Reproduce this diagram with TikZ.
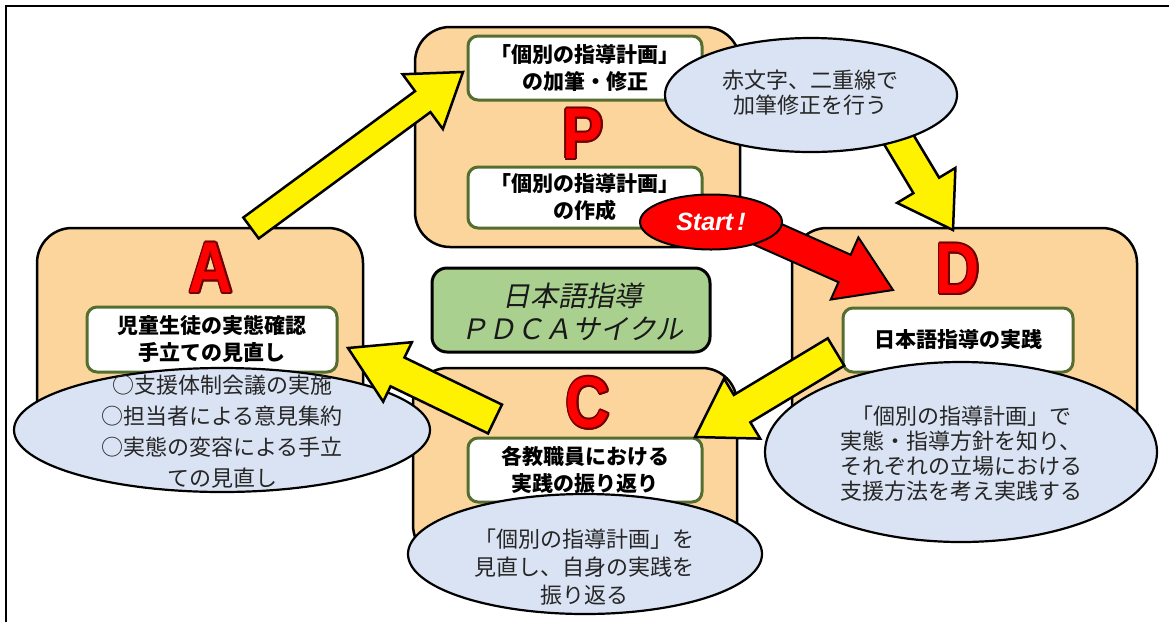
\documentclass[tikz,border=0pt]{standalone}
\usepackage{fontspec}
\usepackage{graphicx}
\usetikzlibrary{calc,shapes.geometric}
\newfontfamily\jp{Noto Sans CJK JP}
\newfontfamily\jpit[FakeSlant=0.2]{Noto Sans CJK JP}
\newfontfamily\lat{Liberation Sans}
\definecolor{boxorange}{RGB}{251,213,156}
\definecolor{ellblue}{RGB}{218,227,243}
\definecolor{titlegreen}{RGB}{169,208,142}
\definecolor{boxgreen}{RGB}{84,110,48}
\definecolor{letteredge}{RGB}{110,0,0}
\tikzset{
  phase/.style={draw=black, line width=2.5pt, fill=boxorange, rounded corners=35pt, inner sep=0pt},
  textbox/.style={draw=boxgreen, line width=3pt, fill=white, rounded corners=10pt, align=center,
    inner sep=0pt, font=\jp\bfseries\fontsize{21}{27}\selectfont},
  titlebox/.style={draw=black, line width=3pt, fill=titlegreen, rounded corners=15pt, inner sep=0pt},
  bubble/.style={ellipse, draw=black, line width=2.2pt, fill=ellblue, inner sep=0pt},
  bubbletext/.style={align=center, inner sep=0pt, text=black!85, font=\jp\fontsize{22}{#1}\selectfont},
  letter/.style={inner sep=0pt, font=\lat\bfseries\fontsize{72}{72}\selectfont},
  yarrow/.style={draw=black, line width=2.5pt, fill=yellow, line join=miter},
  rarrow/.style={draw=black, line width=2pt, fill=red, line join=miter},
}
\newcommand\blockarrow[6]{%
  \coordinate (ba-h) at ($(#3)!#6!(#2)$);
  \draw[#1] ($(#2)!#4!90:(#3)$) -- ($(ba-h)!#4!90:(#3)$) -- ($(ba-h)!#5!90:(#3)$) -- (#3)
    -- ($(ba-h)!#5!-90:(#3)$) -- ($(ba-h)!#4!-90:(#3)$) -- ($(#2)!#4!-90:(#3)$) -- cycle;
}
\newcommand\phaseletter[3]{%
  \foreach \ang in {0,30,...,330}{\node[letter, text=letteredge] at ($(#2)+(\ang:1.8pt)$) {\scalebox{0.85}[1]{#3}};}
  \node[letter, text=red] (#1) at (#2) {\scalebox{0.85}[1]{#3}};
}
\begin{document}
\begin{tikzpicture}[x=1pt,y=-1pt]
\useasboundingbox (0,0) rectangle (1169,622);
\fill[white] (0,0) rectangle (1169,622);
% frame
\draw[line width=2.5pt] (6,622) -- (6,6) -- (1169,6);

% phase boxes
\node[phase, minimum width=325pt, minimum height=220pt] (Pbox) at (577.5,137) {};
\node[phase, minimum width=326pt, minimum height=217pt] (Abox) at (200,336.5) {};
\node[phase, minimum width=324pt, minimum height=192pt] (Cbox) at (575,464) {};
\node[phase, minimum width=345pt, minimum height=242pt] (Dbox) at (964.5,349) {};

% letters
\phaseletter{Pl}{583,134}{P}
\phaseletter{Al}{211,268}{A}
\phaseletter{Dl}{958,269}{D}
\phaseletter{Cl}{588,403}{C}

% white boxes
\node[textbox, minimum width=234pt, minimum height=64pt] (Ptop) at (585,68) {「個別の指導計画」\\の加筆・修正};
\node[textbox, minimum width=234pt, minimum height=61pt] (Pbot) at (585,197.5) {「個別の指導計画」\\の作成};
\node[textbox, minimum width=250pt, minimum height=65pt] (Awb) at (212,339.5) {児童生徒の実態確認\\手立ての見直し};
\node[textbox, minimum width=234pt, minimum height=64pt] (Cwb) at (585,470) {各教職員における\\実践の振り返り};
\node[textbox, minimum width=230pt, minimum height=64pt] (Dwb) at (958,340) {日本語指導の実践};

% title
\node[titlebox, minimum width=278pt, minimum height=84pt] (title) at (571,310) {};
\node[align=center, inner sep=0pt, text=black!90, font=\jpit\fontsize{28}{33}\selectfont] (titletext) at (572,311.5) {日本語指導\\ＰＤＣＡサイクル};

% arrow from P bubble to D (behind bubble)
\coordinate (a2t) at (890,125);
\coordinate (a2h) at (953,230);
\blockarrow{yarrow}{a2t}{a2h}{15pt}{34pt}{52pt}

% bubbles
\node[bubble, minimum width=292pt, minimum height=114pt] (Pell) at (811,95) {};
\node[bubbletext=25] (Pelltext) at (810,92.5) {赤文字、二重線で\\加筆修正を行う};
\node[bubble, minimum width=416pt, minimum height=124pt] (Aell) at (222,430) {};
\node[bubbletext=31] (Aelltext) at (222,432) {○支援体制会議の実施\\○担当者による意見集約\\○実態の変容による手立\\ての見直し};
\node[bubble, minimum width=354pt, minimum height=120pt] (Cell) at (585,554) {};
\node[bubbletext=28] (Celltext) at (584,567) {「個別の指導計画」を\\見直し、自身の実践を\\振り返る};
\node[bubble, minimum width=392pt, minimum height=180pt] (Dell) at (961,452) {};
\node[bubbletext=25] (Delltext) at (961,454) {「個別の指導計画」で\\実態・指導方針を知り、\\それぞれの立場における\\支援方法を考え実践する};

% cycle arrows
\coordinate (a1t) at (251,228);
\coordinate (a1h) at (463,72);
\blockarrow{yarrow}{a1t}{a1h}{13pt}{34pt}{50pt}
\coordinate (a3t) at (836,352);
\coordinate (a3h) at (695,437);
\blockarrow{yarrow}{a3t}{a3h}{16pt}{35pt}{55pt}
\coordinate (a4t) at (495,419);
\coordinate (a4h) at (348,348);
\blockarrow{yarrow}{a4t}{a4h}{16pt}{33pt}{55pt}

% start arrow
\coordinate (a5t) at (740,222);
\coordinate (a5h) at (893,290);
\blockarrow{rarrow}{a5t}{a5h}{15pt}{34pt}{53pt}
\node[ellipse, draw=black, line width=2pt, fill=red, minimum width=142pt, minimum height=55pt, inner sep=0pt,
  text=white, font=\lat\bfseries\itshape\fontsize{25}{25}\selectfont] (start) at (711,222) {Start\,!};
\end{tikzpicture}
\end{document}
